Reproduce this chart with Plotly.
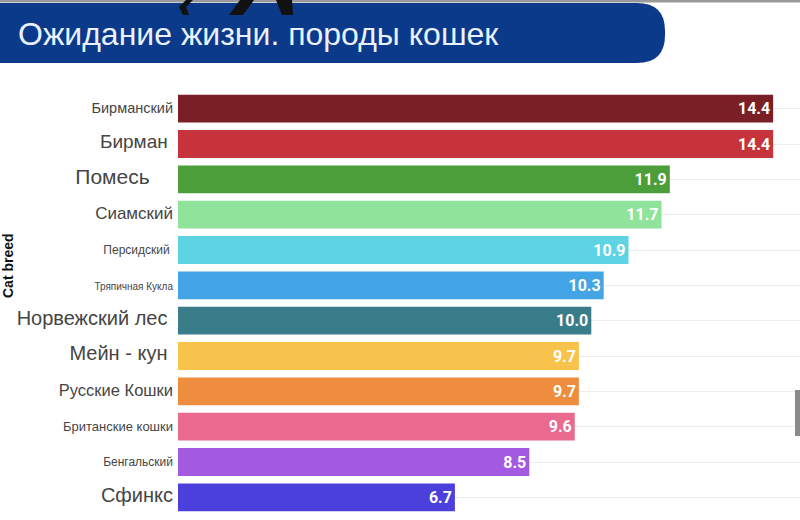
import plotly.graph_objects as go

breeds = ["Бирманский", "Бирман", "Помесь", "Сиамский", "Персидский", "Тряпичная Кукла",
          "Норвежский лес", "Мейн - кун", "Русские Кошки", "Британские кошки", "Бенгальский", "Сфинкс"]
life_years = [14.4, 14.4, 11.9, 11.7, 10.9, 10.3, 10.0, 9.7, 9.7, 9.6, 8.5, 6.7]
label_sizes = [14.5, 19, 21, 17, 12, 10, 20, 20, 16.5, 13, 12, 20]
label_pad = [0, 1, 4, 0, 1, 0, 1, 1, 0, 0, 0, 0]  # trailing spaces after each label
bar_colors = ["#7b1f26", "#c7333b", "#4b9e3a", "#8fe39b", "#5dd3e4", "#44a5e6",
              "#3a7d8a", "#f8c34d", "#ee8d3e", "#e96a8e", "#a35ae0", "#4c40dc"]

ticktext = [f'<span style="font-size:{s}px">{b}{"&nbsp;" * p}</span>'
            for b, s, p in zip(breeds, label_sizes, label_pad)]

# plot area in pixels: x 178..800, y 91..515
L, W, B, H = 178.0, 622.0, 515.0, 424.0
def px(x):
    return (x - L) / W
def py(y):
    return (B - y) / H

def poly(points):
    return "M " + " L ".join(f"{px(x):.4f} {py(y):.4f}" for x, y in points) + " Z"

r = 28
banner = (f"M {px(-20):.4f} {py(3):.4f} L {px(665 - r):.4f} {py(3):.4f} "
          f"Q {px(665):.4f} {py(3):.4f} {px(665):.4f} {py(3 + r):.4f} "
          f"L {px(665):.4f} {py(63 - r):.4f} "
          f"Q {px(665):.4f} {py(63):.4f} {px(665 - r):.4f} {py(63):.4f} "
          f"L {px(-20):.4f} {py(63):.4f} Z")

fig = go.Figure(go.Bar(
    x=life_years, y=breeds, orientation="h",
    marker=dict(color=bar_colors, line=dict(width=0)),
    text=[f"{v:.1f}" for v in life_years], textposition="inside", insidetextanchor="end",
    textfont=dict(color="white", size=16, family="Roboto", weight="bold"),
))

fig.update_layout(
    width=800, height=520,
    margin=dict(l=178, r=0, t=91, b=5, autoexpand=False),
    plot_bgcolor="white", paper_bgcolor="white",
    bargap=0.21, showlegend=False,
    font=dict(family="Liberation Sans, Arial", color="#454545"),
    xaxis=dict(range=[0, 15.05], showgrid=False, zeroline=False, showticklabels=False,
               ticks="", automargin=False),
    yaxis=dict(autorange="reversed", categoryorder="array", categoryarray=breeds,
               tickvals=breeds, ticktext=ticktext, showgrid=True, gridcolor="#ececec",
               gridwidth=1, ticks="", ticklabelstandoff=4, zeroline=False, automargin=False),
    shapes=[
        dict(type="rect", xref="paper", yref="paper", x0=px(0), x1=px(800), y0=py(2.5), y1=py(0),
             fillcolor="#9a9a9a", line=dict(width=0), layer="above"),
        dict(type="path", xref="paper", yref="paper", path=banner,
             fillcolor="#0b3a8a", line=dict(width=0), layer="above"),
        dict(type="path", xref="paper", yref="paper",
             path=poly([(186, 0), (193, 0), (186, 7), (189, 15), (183, 15), (179, 7)]),
             fillcolor="#111111", line=dict(width=0), layer="above"),
        dict(type="path", xref="paper", yref="paper",
             path=poly([(240, 0), (254, 0), (243, 15), (229, 15)]),
             fillcolor="#111111", line=dict(width=0), layer="above"),
        dict(type="path", xref="paper", yref="paper",
             path=poly([(276, 0), (292, 0), (293, 15), (282, 15)]),
             fillcolor="#111111", line=dict(width=0), layer="above"),
        dict(type="rect", xref="paper", yref="paper", x0=px(795), x1=px(803), y0=py(436), y1=py(390),
             fillcolor="#8a8a8a", line=dict(width=0), layer="above"),
    ],
    annotations=[
        dict(text="Ожидание жизни. породы кошек", xref="paper", yref="paper", x=px(16), y=py(34),
             xanchor="left", yanchor="middle", showarrow=False,
             font=dict(size=32, color="#eaf1ff", family="Liberation Sans, Arial")),
        dict(text="<b>Cat breed</b>", xref="paper", yref="paper", x=px(8), y=py(266),
             xanchor="center", yanchor="middle", textangle=-90, showarrow=False,
             font=dict(size=14, color="#111111", family="Liberation Sans, Arial")),
    ],
)

fig.write_html("out.html", config={"displayModeBar": False},
               post_script="document.body.style.margin='0px';document.body.style.overflow='hidden';")
